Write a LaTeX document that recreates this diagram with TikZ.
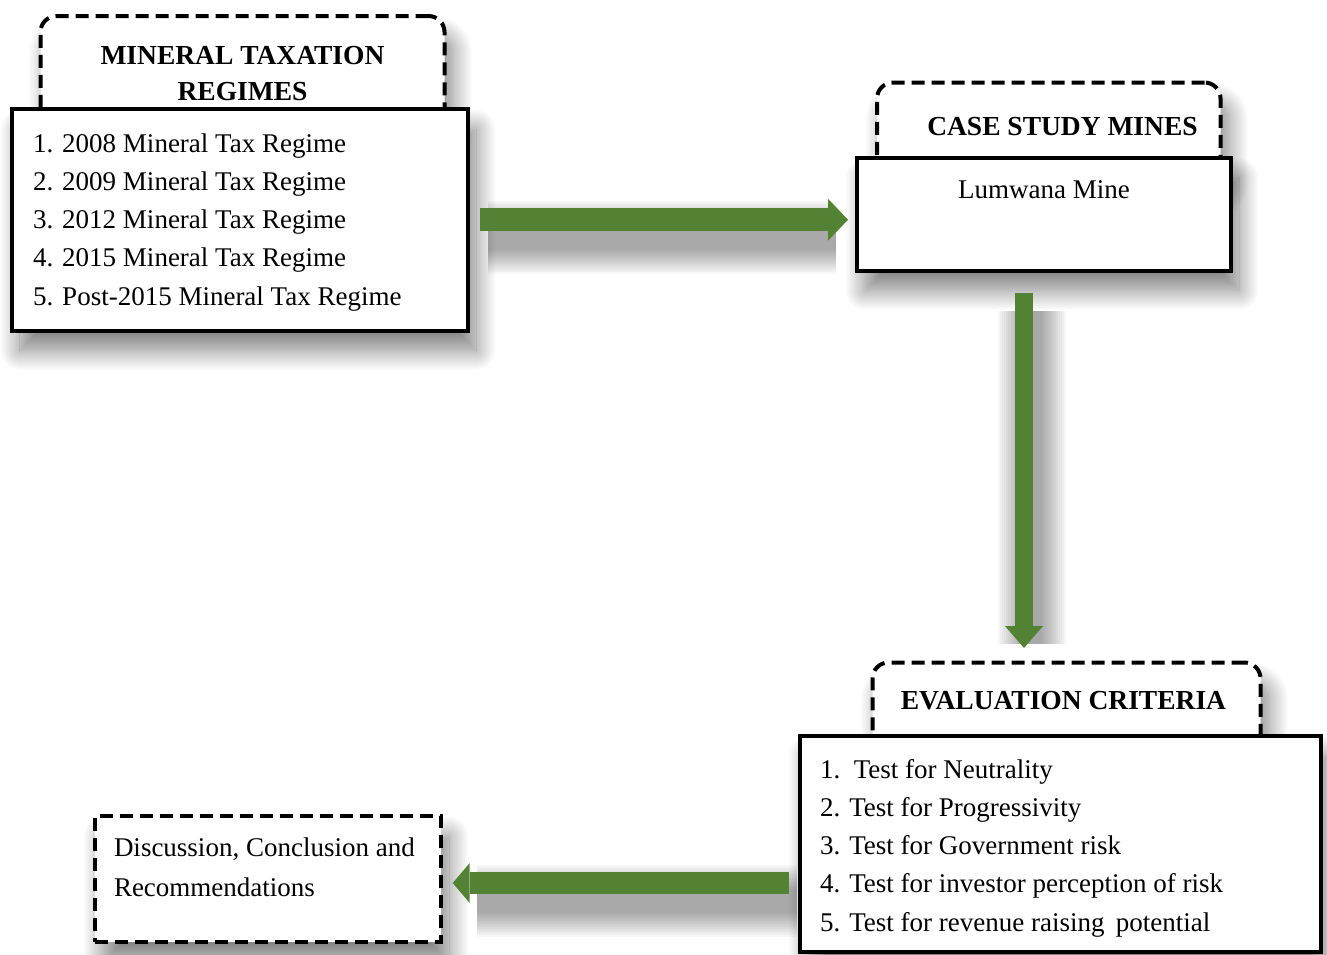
\documentclass[tikz,border=0pt]{standalone}
\usepackage{fontspec}
\setmainfont{Liberation Serif}
\usetikzlibrary{arrows.meta,shadows.blur}
\definecolor{arrgreen}{RGB}{84,130,53}
\pgfdeclarelayer{bg}
\pgfsetlayers{bg,main}
% #1 width, #2 height, #3 format, #4 first baseline from top, #5 text
\newcommand{\tb}[5]{\parbox[c][#2pt][t]{#1pt}{#3\rule{0pt}{#4pt}#5}}
\newcommand{\listfont}{\fontsize{27}{38.3}\selectfont}
\newcommand{\hdrfont}{\fontsize{27.5}{36}\selectfont\bfseries}
\begin{document}
\begin{tikzpicture}[x=1pt,y=-1pt,
  every node/.style={inner sep=0pt, outer sep=0pt},
  shadowed/.style={blur shadow={shadow xshift=8pt, shadow yshift=-20pt,
      shadow blur radius=20pt, shadow blur steps=24, shadow opacity=50}},
  mainbox/.style={draw=black, line width=4pt, fill=white, shadowed},
  tabbox/.style={draw=black, line width=4pt, dash pattern=on 13pt off 7pt,
      rounded corners=16pt, fill=white, shadowed},
  dashbox/.style={draw=black, line width=4pt, dash pattern=on 13pt off 7pt,
      fill=white, shadowed},
  fatarrow/.style n args={3}{draw=arrgreen, line width=#1,
      -{Triangle[width=#2, length=#3, line width=0pt]}},
  ashadow/.style={draw=black, opacity=0.03, line width=#1,
      transform canvas={xshift=8pt, yshift=-18pt}}
]
\useasboundingbox (0,0) rectangle (1327,954);

% header tabs
\node[tabbox] (h1) at (242.5,73)
  {\tb{404}{114}{\hdrfont\centering}{48}{MINERAL TAXATION\\REGIMES}};
\node[tabbox] (h2) at (1048.75,131.25)
  {\tb{343.5}{97.5}{\hdrfont\centering}{52.5}{\hspace*{27.5pt}CASE STUDY MINES}};
\node[tabbox] (h3) at (1066.5,711.25)
  {\tb{388}{97.5}{\hdrfont\centering}{46.5}{\hspace*{-6pt}EVALUATION CRITERIA}};

% main boxes
\node[mainbox] (box1) at (240,219.75)
  {\tb{456}{221.5}{\listfont\raggedright\leftskip=21pt}{43}{%
   1. 2008 Mineral Tax Regime\\
   2. 2009 Mineral Tax Regime\\
   3. 2012 Mineral Tax Regime\\
   4. 2015 Mineral Tax Regime\\
   5. Post-2015 Mineral Tax Regime}};
\node[mainbox] (box2) at (1044,214)
  {\tb{374}{113}{\listfont\centering}{40.5}{Lumwana Mine}};
\node[mainbox] (box3) at (1060.25,843.75)
  {\tb{520.5}{216.5}{\listfont\raggedright\leftskip=20pt}{42.5}{%
   1.\ \ Test for Neutrality\\
   2. Test for Progressivity\\
   3. Test for Government risk\\
   4. Test for investor perception of risk\\
   5. Test for revenue raising\, potential}};
\node[dashbox] (box4) at (268,879)
  {\tb{346}{126}{\fontsize{27}{40}\selectfont\raggedright\leftskip=19pt}{40}{%
   Discussion, Conclusion and\\Recommendations}};

% arrow shadows
\begin{pgfonlayer}{bg}
\foreach \w in {2,6,...,50}{
  \draw[ashadow=23pt+\w pt, shorten <=12pt, shorten >=29pt]
    (box1.east) -- (box1.east -| box2.west);
  \draw[ashadow=18pt+\w pt, shorten <=22pt, shorten >=37pt]
    ([xshift=-20pt]box2.south) -- ([xshift=-20pt]box2.south |- h3.north);
  \draw[ashadow=22pt+\w pt, shorten <=11pt, shorten >=28pt]
    ([yshift=-39.25pt]box3.west) -- ([yshift=-39.25pt]box3.west -| box4.east);
}
\end{pgfonlayer}

% arrows
\draw[fatarrow={23pt}{42pt}{20pt}, shorten <=12pt, shorten >=9pt]
  (box1.east) -- (box1.east -| box2.west);
\draw[fatarrow={18pt}{38pt}{22pt}, shorten <=22.2pt, shorten >=14.5pt]
  ([xshift=-20pt]box2.south) -- ([xshift=-20pt]box2.south |- h3.north);
\draw[fatarrow={22pt}{40pt}{17pt}, shorten <=11pt, shorten >=11.7pt]
  ([yshift=-39.25pt]box3.west) -- ([yshift=-39.25pt]box3.west -| box4.east);
\end{tikzpicture}
\end{document}
